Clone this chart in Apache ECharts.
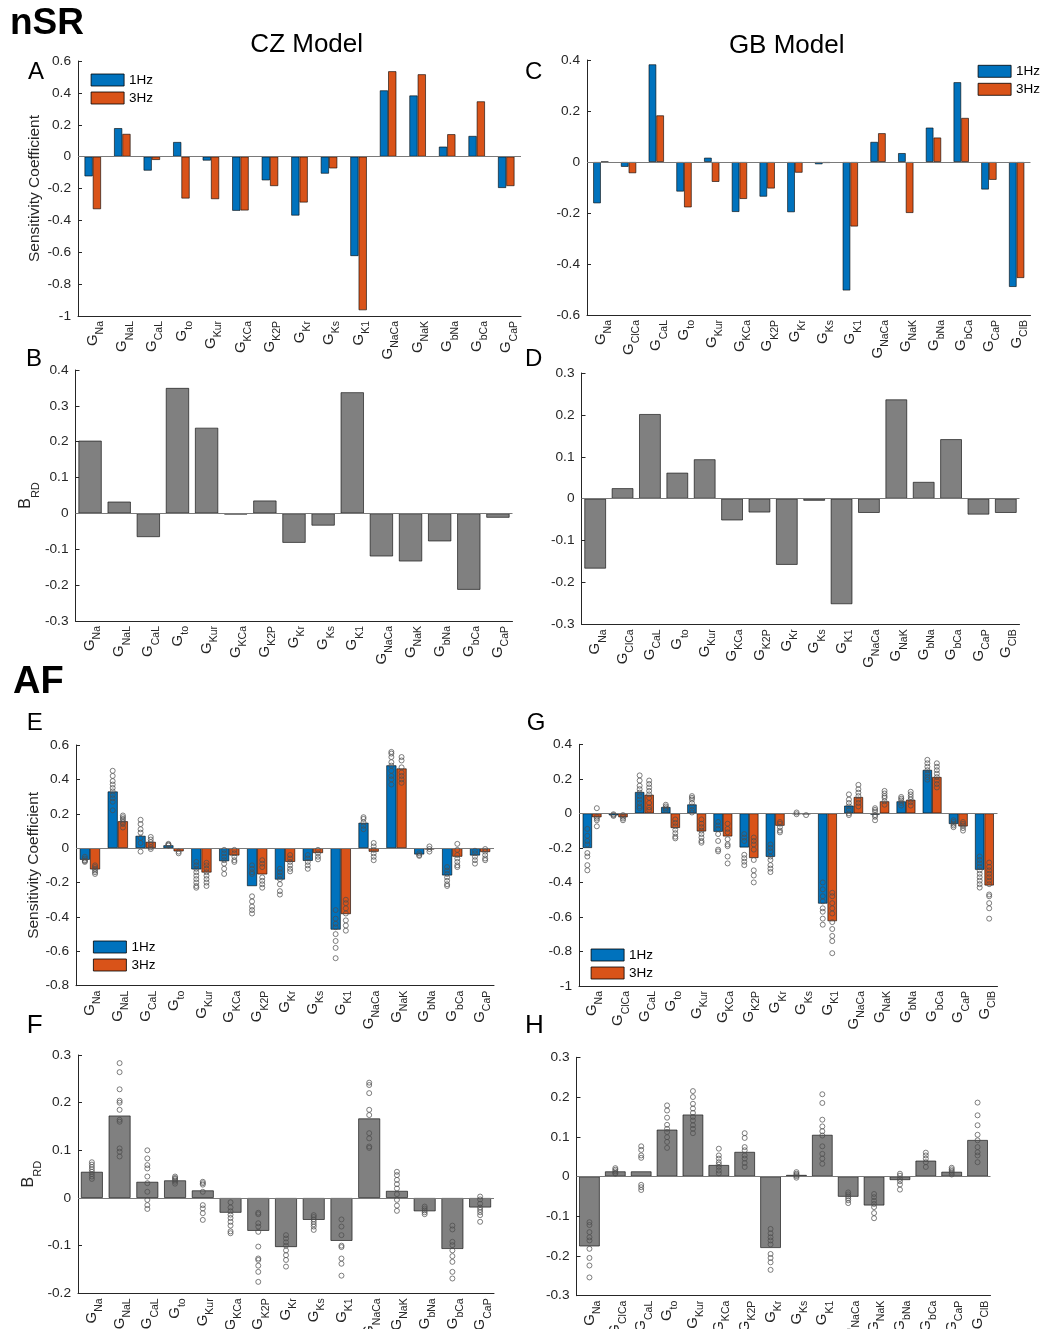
<!DOCTYPE html>
<html>
<head>
<meta charset="utf-8">
<script src="https://cdn.jsdelivr.net/npm/echarts@6/dist/echarts.min.js"></script>
<style>
html,body{margin:0;padding:0;background:#fff;}
#main{width:1042px;height:1329px;}
</style>
</head>
<body>
<div id="main"></div>
<script>
// channel names (shown as G with subscript)
var czCats = ['Na','NaL','CaL','to','Kur','KCa','K2P','Kr','Ks','K1','NaCa','NaK','bNa','bCa','CaP'];
var gbCats = ['Na','ClCa','CaL','to','Kur','KCa','K2P','Kr','Ks','K1','NaCa','NaK','bNa','bCa','CaP','ClB'];

// nSR, CZ model (A, B)
var czNsr1Hz = [-0.124,0.179,-0.088,0.092,-0.025,-0.340,-0.149,-0.370,-0.107,-0.624,0.416,0.384,0.063,0.130,-0.197];
var czNsr3Hz = [-0.330,0.143,-0.021,-0.263,-0.267,-0.338,-0.185,-0.288,-0.074,-0.964,0.536,0.517,0.141,0.347,-0.185];
var czNsrBrd = [0.203,0.033,-0.066,0.350,0.239,-0.003,0.036,-0.082,-0.034,0.338,-0.120,-0.134,-0.078,-0.213,-0.012];

// nSR, GB model (C, D)
var gbNsr1Hz = [-0.162,-0.019,0.383,-0.116,0.017,-0.196,-0.136,-0.197,-0.009,-0.504,0.079,0.035,0.135,0.313,-0.108,-0.490];
var gbNsr3Hz = [0.001,-0.044,0.183,-0.178,-0.078,-0.145,-0.104,-0.042,-0.004,-0.253,0.113,-0.200,0.096,0.173,-0.070,-0.455];
var gbNsrBrd = [-0.167,0.025,0.202,0.062,0.094,-0.052,-0.033,-0.158,-0.005,-0.252,-0.034,0.237,0.040,0.142,-0.038,-0.034];

// AF, CZ model (E, F)
var czAf1Hz = [-0.068,0.330,0.072,0.017,-0.124,-0.076,-0.221,-0.183,-0.074,-0.474,0.148,0.482,-0.037,-0.159,-0.043];
var czAf3Hz = [-0.124,0.157,0.037,-0.019,-0.142,-0.043,-0.153,-0.080,-0.029,-0.384,-0.021,0.464,-0.008,-0.050,-0.023];
var czAfBrd = [0.055,0.173,0.034,0.037,0.016,-0.031,-0.069,-0.103,-0.046,-0.090,0.167,0.015,-0.028,-0.107,-0.020];

// AF, GB model (G, H)
var gbAf1Hz = [-0.201,-0.012,0.124,0.037,0.052,-0.107,-0.198,-0.252,-0.004,-0.523,0.045,-0.008,0.070,0.252,-0.062,-0.327];
var gbAf3Hz = [-0.023,-0.023,0.108,-0.085,-0.105,-0.134,-0.259,-0.072,-0.006,-0.625,0.095,0.070,0.079,0.211,-0.076,-0.418];
var gbAfBrd = [-0.176,0.013,0.013,0.118,0.156,0.029,0.062,-0.180,0.004,0.105,-0.051,-0.073,-0.009,0.040,0.012,0.092];

// individual AF model values (circles), one list per channel
var czAf1HzDots = [
  [-0.05,-0.06,-0.07,-0.075,-0.08],
  [0.45,0.42,0.39,0.37,0.35,0.33,0.31,0.29,0.27,0.22],
  [0.165,0.14,0.11,0.09,0.06,0.03,-0.02],
  [0.025,0.02,0.015],
  [-0.08,-0.10,-0.12,-0.14,-0.16,-0.18,-0.20,-0.22,-0.23],
  [-0.01,-0.03,-0.05,-0.07,-0.09,-0.12,-0.15],
  [-0.10,-0.12,-0.14,-0.15,-0.28,-0.31,-0.34,-0.36,-0.38],
  [-0.12,-0.14,-0.16,-0.18,-0.21,-0.25,-0.27],
  [-0.04,-0.06,-0.08,-0.10,-0.12],
  [-0.36,-0.41,-0.44,-0.46,-0.50,-0.54,-0.58,-0.64],
  [0.18,0.17,0.15,0.13,0.11],
  [0.56,0.55,0.53,0.50,0.48,0.45,0.42,0.40,0.37],
  [-0.03,-0.04,-0.045],
  [-0.11,-0.13,-0.15,-0.17,-0.19,-0.21,-0.22],
  [-0.015,-0.03,-0.05,-0.07,-0.09]
];
var czAf3HzDots = [
  [-0.10,-0.11,-0.12,-0.13,-0.14,-0.15],
  [0.19,0.18,0.17,0.16,0.15,0.14,0.12],
  [0.065,0.05,0.035,0.02,0.005,-0.005],
  [-0.02,-0.03],
  [-0.085,-0.10,-0.12,-0.14,-0.16,-0.18,-0.20,-0.22],
  [-0.01,-0.03,-0.05,-0.07,-0.08],
  [-0.07,-0.09,-0.11,-0.17,-0.19,-0.21,-0.23],
  [-0.04,-0.06,-0.08,-0.10,-0.12,-0.135],
  [-0.01,-0.03,-0.05,-0.065],
  [-0.30,-0.32,-0.35,-0.38,-0.42,-0.45,-0.48],
  [0.03,0.01,-0.01,-0.03,-0.05,-0.07],
  [0.53,0.51,0.47,0.44,0.42,0.40,0.38],
  [0.01,-0.005,-0.02],
  [0.025,-0.01,-0.04,-0.06,-0.08,-0.10,-0.11],
  [-0.005,-0.02,-0.04,-0.06,-0.07]
];
var gbAf1HzDots = [
  [-0.09,-0.13,-0.16,-0.18,-0.23,-0.25,-0.30,-0.33],
  [-0.005,-0.01,-0.015],
  [0.22,0.19,0.16,0.14,0.12,0.10,0.08,0.06,0.04,0.03],
  [0.05,0.04,0.03,0.02],
  [0.10,0.09,0.08,0.06,0.04,0.02,0.005],
  [-0.05,-0.07,-0.09,-0.12,-0.16,-0.21,-0.22],
  [-0.12,-0.14,-0.16,-0.24,-0.26,-0.28,-0.30],
  [-0.18,-0.20,-0.22,-0.25,-0.27,-0.30,-0.32,-0.34],
  [0.005,-0.005],
  [-0.40,-0.44,-0.48,-0.51,-0.55,-0.57,-0.61,-0.645],
  [0.11,0.08,0.06,0.04,0.02,0.0,-0.01],
  [0.03,0.02,0.01,-0.01,-0.02,-0.04],
  [0.095,0.085,0.075,0.06,0.045],
  [0.31,0.29,0.27,0.25,0.23,0.21,0.195],
  [-0.04,-0.05,-0.06,-0.07,-0.08],
  [-0.25,-0.27,-0.29,-0.31,-0.33,-0.35,-0.37,-0.39,-0.41,-0.43]
];
var gbAf3HzDots = [
  [0.03,-0.02,-0.03,-0.04,-0.075],
  [-0.01,-0.02,-0.03,-0.04],
  [0.19,0.17,0.15,0.13,0.11,0.09,0.06,0.035,0.02],
  [-0.035,-0.055,-0.075,-0.095,-0.115,-0.135,-0.145],
  [-0.035,-0.06,-0.08,-0.10,-0.12,-0.14,-0.16,-0.17],
  [-0.06,-0.09,-0.11,-0.15,-0.18,-0.19,-0.25,-0.29],
  [-0.14,-0.16,-0.18,-0.21,-0.27,-0.33,-0.36,-0.40],
  [-0.05,-0.06,-0.08,-0.10,-0.11],
  [-0.01],
  [-0.46,-0.48,-0.52,-0.55,-0.58,-0.63,-0.67,-0.71,-0.74,-0.81],
  [0.165,0.14,0.12,0.10,0.08,0.06,0.04],
  [0.13,0.115,0.10,0.09,0.07,0.05],
  [0.125,0.11,0.095,0.08,0.065,0.045],
  [0.29,0.27,0.25,0.23,0.21,0.19,0.17,0.15],
  [-0.05,-0.06,-0.07,-0.085,-0.10],
  [-0.285,-0.31,-0.33,-0.35,-0.37,-0.39,-0.41,-0.47,-0.48,-0.52,-0.55,-0.61]
];
var czAfBrdDots = [
  [0.075,0.07,0.065,0.06,0.055,0.05,0.045,0.04],
  [0.283,0.264,0.228,0.204,0.20,0.185,0.164,0.16,0.104,0.097,0.087],
  [0.10,0.083,0.069,0.062,0.045,0.031,0.013,-0.004,-0.015,-0.023],
  [0.045,0.042,0.04,0.037,0.034,0.03],
  [0.034,0.031,0.028,0.013,-0.015,-0.022,-0.032,-0.046],
  [-0.009,-0.02,-0.028,-0.035,-0.042,-0.05,-0.058,-0.07,-0.074],
  [-0.031,-0.034,-0.053,-0.06,-0.071,-0.102,-0.127,-0.13,-0.142,-0.155,-0.176],
  [-0.078,-0.085,-0.093,-0.10,-0.11,-0.12,-0.13,-0.144],
  [-0.036,-0.04,-0.045,-0.05,-0.055,-0.06,-0.067],
  [-0.045,-0.06,-0.078,-0.10,-0.103,-0.127,-0.138,-0.163],
  [0.242,0.237,0.22,0.185,0.174,0.136,0.125,0.108,0.105],
  [0.055,0.048,0.038,0.029,0.02,0.008,-0.004,-0.016,-0.027],
  [-0.018,-0.022,-0.026,-0.03,-0.034],
  [-0.058,-0.066,-0.092,-0.099,-0.11,-0.122,-0.134,-0.155,-0.169],
  [0.003,-0.003,-0.012,-0.02,-0.025,-0.03,-0.036,-0.05]
];
var gbAfBrdDots = [
  [-0.115,-0.122,-0.14,-0.153,-0.161,-0.182,-0.205,-0.224,-0.254],
  [0.021,0.017,0.013,0.009,0.007],
  [0.076,0.067,0.053,0.047,-0.021,-0.027,-0.034],
  [0.179,0.166,0.148,0.13,0.12,0.112,0.099,0.087,0.072],
  [0.215,0.2,0.183,0.171,0.16,0.15,0.141,0.129,0.12,0.109],
  [0.07,0.053,0.045,0.036,0.03,0.024,0.015,0.008],
  [0.109,0.097,0.074,0.066,0.053,0.045,0.034,0.024],
  [-0.132,-0.143,-0.153,-0.161,-0.171,-0.195,-0.205,-0.216,-0.235],
  [0.011,0.007,0.004,0.001,-0.003],
  [0.207,0.185,0.143,0.126,0.114,0.103,0.076,0.057,0.045,0.032],
  [-0.04,-0.045,-0.05,-0.055,-0.06,-0.067],
  [-0.044,-0.052,-0.061,-0.069,-0.077,-0.092,-0.105],
  [0.007,0.002,-0.006,-0.012,-0.02,-0.033],
  [0.06,0.053,0.045,0.036,0.024],
  [0.022,0.018,0.014,0.01,0.005],
  [0.186,0.154,0.129,0.105,0.091,0.074,0.061,0.053,0.036]
];

var FONT = 'Liberation Sans, Arial, Helvetica, sans-serif';
var AX = '#262626';
var BLUE = '#0072BD', ORANGE = '#D95319', GRAY = '#808080';

var grids = [], xAxes = [], yAxes = [], series = [];

function dotData(dots) {
    var out = [];
    for (var i = 0; i < dots.length; i++) {
        for (var j = 0; j < dots[i].length; j++) {
            out.push([i, dots[i][j]]);
        }
    }
    return out;
}

function addPanel(p) {
    var k = grids.length;
    grids.push({left: p.left, top: p.top, width: p.width, height: p.height,
        containLabel: false, outerBoundsMode: 'none'});
    xAxes.push({
        type: 'category', gridIndex: k, data: p.cats,
        axisLine: {onZero: false, lineStyle: {color: AX, width: 1}},
        axisTick: {inside: true, alignWithLabel: true, interval: 0, length: 4, lineStyle: {color: AX}},
        axisLabel: {
            interval: 0, rotate: 90, margin: 5, color: AX,
            formatter: function (v) { return '{g|G}{s|' + v + '}'; },
            rich: {
                g: {fontSize: 15, fontFamily: FONT, color: AX, lineHeight: 26},
                s: {fontSize: 10.5, fontFamily: FONT, color: AX, verticalAlign: 'bottom'}
            }
        },
        splitLine: {show: false}
    });
    var y = {
        type: 'value', gridIndex: k, min: p.min, max: p.max, interval: p.step,
        axisLine: {show: true, lineStyle: {color: AX, width: 1}},
        axisTick: {show: true, inside: true, length: 4, lineStyle: {color: AX}},
        axisLabel: {fontSize: 13.7, fontFamily: FONT, color: AX, margin: 7},
        splitLine: {show: false}
    };
    if (p.yName) {
        y.name = p.yName;
        y.nameLocation = 'middle';
        y.nameGap = p.nameGap;
        y.nameTextStyle = {fontSize: 15.5, fontFamily: FONT, color: AX,
            rich: {
                b: {fontSize: 16, fontFamily: FONT, color: AX, lineHeight: 30},
                s: {fontSize: 11, fontFamily: FONT, color: AX, verticalAlign: 'bottom'}
            }};
    }
    yAxes.push(y);

    var zeroLine = {silent: true, symbol: 'none', label: {show: false},
        lineStyle: {color: '#7a7a7a', width: 1, type: 'solid'}, data: [{yAxis: 0}]};
    var edge = {borderColor: 'rgba(0,0,0,0.75)', borderWidth: 0.8};
    var dotStyle = {color: 'transparent', borderColor: '#4d4d4d', borderWidth: 0.9};

    if (p.gray) {
        series.push({type: 'bar', name: 'BRD', xAxisIndex: k, yAxisIndex: k, data: p.gray,
            barWidth: p.bw, itemStyle: {color: GRAY, borderColor: edge.borderColor, borderWidth: edge.borderWidth},
            markLine: zeroLine});
        if (p.grayDots) {
            series.push({type: 'scatter', name: 'models', xAxisIndex: k, yAxisIndex: k, z: 5,
                data: dotData(p.grayDots), symbol: 'circle', symbolSize: 5, itemStyle: dotStyle});
        }
    } else {
        series.push({type: 'bar', name: '1Hz', xAxisIndex: k, yAxisIndex: k, data: p.one,
            barWidth: p.bw, barGap: '0%',
            itemStyle: {color: BLUE, borderColor: edge.borderColor, borderWidth: edge.borderWidth},
            markLine: zeroLine});
        series.push({type: 'bar', name: '3Hz', xAxisIndex: k, yAxisIndex: k, data: p.three,
            barWidth: p.bw, barGap: '0%',
            itemStyle: {color: ORANGE, borderColor: edge.borderColor, borderWidth: edge.borderWidth}});
        if (p.oneDots) {
            series.push({type: 'scatter', name: 'models', xAxisIndex: k, yAxisIndex: k, z: 5,
                data: dotData(p.oneDots), symbol: 'circle', symbolSize: 5, symbolOffset: [-p.bw / 2, 0],
                itemStyle: dotStyle});
            series.push({type: 'scatter', name: 'models', xAxisIndex: k, yAxisIndex: k, z: 5,
                data: dotData(p.threeDots), symbol: 'circle', symbolSize: 5, symbolOffset: [p.bw / 2, 0],
                itemStyle: dotStyle});
        }
    }
}

// A
addPanel({left: 78, top: 61, width: 443, height: 255, cats: czCats, min: -1, max: 0.6, step: 0.2,
    one: czNsr1Hz, three: czNsr3Hz, bw: 8.3, yName: 'Sensitivity Coefficient', nameGap: 35});
// C
addPanel({left: 587, top: 60, width: 443.5, height: 255, cats: gbCats, min: -0.6, max: 0.4, step: 0.2,
    one: gbNsr1Hz, three: gbNsr3Hz, bw: 7.7});
// B
addPanel({left: 75.5, top: 370, width: 437, height: 251, cats: czCats, min: -0.3, max: 0.4, step: 0.1,
    gray: czNsrBrd, bw: 23.3, yName: '{b|B}{s|RD}', nameGap: 34});
// D
addPanel({left: 581.5, top: 373, width: 438, height: 251.3, cats: gbCats, min: -0.3, max: 0.3, step: 0.1,
    gray: gbNsrBrd, bw: 21.7});
// E
addPanel({left: 76, top: 745, width: 418, height: 240.7, cats: czCats, min: -0.8, max: 0.6, step: 0.2,
    one: czAf1Hz, three: czAf3Hz, oneDots: czAf1HzDots, threeDots: czAf3HzDots, bw: 10.2,
    yName: 'Sensitivity Coefficient', nameGap: 33});
// G
addPanel({left: 579, top: 744.3, width: 418.5, height: 241.7, cats: gbCats, min: -1, max: 0.4, step: 0.2,
    one: gbAf1Hz, three: gbAf3Hz, oneDots: gbAf1HzDots, threeDots: gbAf3HzDots, bw: 9.5});
// F
addPanel({left: 78, top: 1055, width: 416, height: 238.3, cats: czCats, min: -0.2, max: 0.3, step: 0.1,
    gray: czAfBrd, grayDots: czAfBrdDots, bw: 22, yName: '{b|B}{s|RD}', nameGap: 32});
// H
addPanel({left: 576.5, top: 1057.3, width: 414, height: 238.4, cats: gbCats, min: -0.3, max: 0.3, step: 0.1,
    gray: gbAfBrd, grayDots: gbAfBrdDots, bw: 20.7});

function legendAt(left, top) {
    return {data: ['1Hz', '3Hz'], orient: 'vertical', left: left, top: top, padding: 0,
        itemWidth: 33, itemHeight: 12, itemGap: 4, icon: 'rect', selectedMode: false,
        itemStyle: {borderColor: '#000', borderWidth: 0.8},
        textStyle: {fontSize: 13.5, fontFamily: FONT, color: '#000', lineHeight: 12}};
}

function label(txt, x, y, size, bold, align) {
    return {type: 'text', x: x, y: y, silent: true,
        style: {text: txt, fill: '#000', font: (bold ? 'bold ' : '') + size + 'px ' + FONT,
            textAlign: align || 'left', textVerticalAlign: 'top'}};
}

var myChart = echarts.init(document.getElementById('main'), null, {renderer: 'canvas'});
option = {
    animation: false,
    backgroundColor: '#fff',
    grid: grids,
    xAxis: xAxes,
    yAxis: yAxes,
    legend: [legendAt(90.7, 73), legendAt(977.7, 64.3), legendAt(93, 940), legendAt(590.7, 948)],
    graphic: [
        label('nSR', 10, 5, 37, true),
        label('AF', 13, 664, 38, true),
        label('CZ Model', 306.7, 31.5, 26, false, 'center'),
        label('GB Model', 786.7, 33, 26, false, 'center'),
        label('A', 28, 60, 24),
        label('C', 525, 60, 24),
        label('B', 26, 347, 24),
        label('D', 525, 347, 24),
        label('E', 26.7, 711, 24),
        label('G', 526.7, 711.5, 24),
        label('F', 26.7, 1012.5, 26),
        label('H', 525, 1012.5, 26)
    ],
    series: series
};
myChart.setOption(option, true);
</script>
</body>
</html>
